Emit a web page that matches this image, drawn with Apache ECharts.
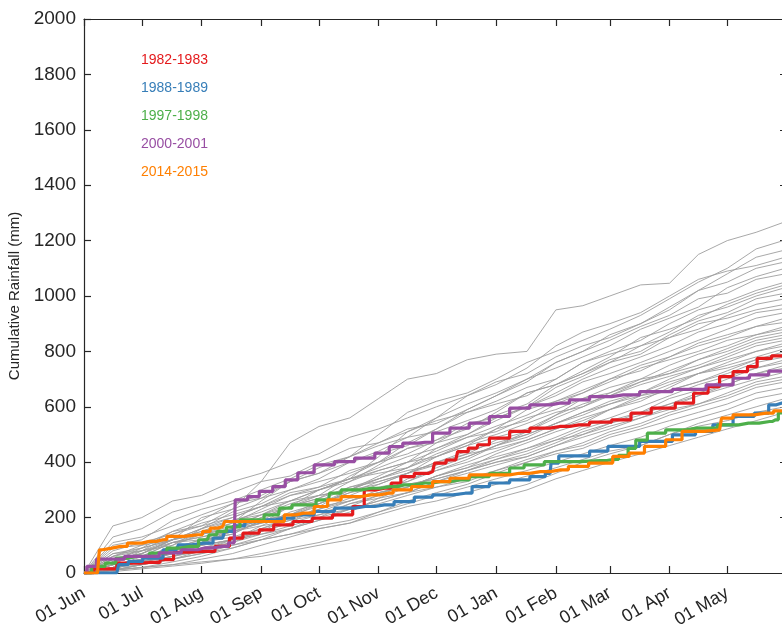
<!DOCTYPE html>
<html>
<head>
<meta charset="utf-8">
<script src="https://cdn.jsdelivr.net/npm/echarts@6/dist/echarts.min.js"></script>
<style>
html,body{margin:0;padding:0;background:#fff;}
#chart{width:782px;height:630px;}
</style>
</head>
<body>
<div id="chart"></div>
<script>
// ---- tick labels ----
const monthStartDays = [0, 30, 61, 92, 122, 153, 183, 214, 245, 273, 304, 334];
const monthLabels = ['01 Jun','01 Jul','01 Aug','01 Sep','01 Oct','01 Nov','01 Dec','01 Jan','01 Feb','01 Mar','01 Apr','01 May'];
const yTicks = [0,200,400,600,800,1000,1200,1400,1600,1800,2000];

// ---- highlighted seasons (day since 01 Jun, cumulative mm) ----
const seasonNames = ['1982-1983','1988-1989','1997-1998','2000-2001','2014-2015'];
const seasonColors = ['#E41A1C','#377EB8','#4DAF4A','#984EA3','#FF7F00'];

const days1982 = [0,10,24,34,45,48,62,74,77,88,94,103,114,123,135,144,147,156,163,166,177,181,183,193,195,204,205,216,226,237,247,257,268,280,288,301,313,320,328,332,342,347,352,362,365];
const vals1982 = [0,15,36,38,48,75,78,96,126,144,156,174,186,198,210,240,300,306,325,348,360,366,397,408,438,451,463,487,511,523,529,535,545,553,577,595,613,649,673,709,727,745,775,784,784];

const days1988 = [0,17,19,27,34,48,50,62,72,74,81,86,95,104,114,125,135,146,156,166,177,185,198,205,216,226,237,242,243,250,261,264,280,297,314,321,332,342,354,357,362,365];
const vals1988 = [0,0,30,42,54,84,102,108,126,150,170,185,192,198,210,222,234,240,246,258,274,282,288,312,325,336,348,360,397,423,423,440,457,475,499,511,535,565,577,607,613,613];

const days1997 = [0,8,14,19,27,41,45,55,64,66,72,76,86,101,102,114,127,128,139,149,159,166,177,185,195,205,216,226,231,247,268,275,280,285,288,297,307,318,323,335,345,356,359,362,365];
const vals1997 = [0,24,36,54,60,72,90,96,120,138,150,166,192,210,234,246,264,288,300,306,312,318,325,330,336,348,360,379,390,402,406,410,425,450,480,505,517,523,523,535,541,547,553,578,578];

const days2000 = [0,3,10,32,46,55,63,72,78,79,83,87,95,101,108,114,125,135,146,156,161,170,177,185,195,205,216,226,237,247,257,268,280,297,314,332,342,349,362,365];
const vals2000 = [0,24,50,60,73,84,91,96,109,264,264,276,295,312,336,362,390,402,415,433,456,469,472,505,523,541,565,595,607,613,625,637,643,655,663,679,703,715,729,730];

const days2014 = [0,7,9,10,19,26,34,41,45,59,64,67,72,74,88,102,106,114,125,128,139,149,158,163,177,185,195,205,216,226,237,247,256,268,281,285,297,307,314,330,332,342,354,362,365];
const vals2014 = [0,0,84,90,96,108,114,120,132,138,150,162,168,186,186,186,210,216,240,264,276,282,288,300,312,330,342,354,354,360,366,372,385,397,421,433,457,481,511,517,559,571,577,585,585];

// ---- all other seasons (half-monthly cumulative mm, read approximately) ----
const grayDays = [0,15,30,46,61,77,92,107,122,138,153,168,183,199,214,230,245,259,273,289,304,319,334,349,364];
const grayRuns = [
  [0,40,90,120,200,230,330,470,529,560,630,700,720,770,790,800,950,965,1000,1040,1046,1150,1200,1230,1268],
  [0,20,50,100,140,180,260,330,380,420,500,580,620,650,700,760,800,840,880,930,990,1050,1100,1170,1202],
  [0,170,200,260,280,330,360,400,430,490,520,560,600,640,690,720,780,820,850,900,960,1020,1080,1140,1166],
  [0,30,40,60,100,160,200,240,300,340,420,510,560,640,680,740,820,870,900,940,1000,1060,1090,1110,1140],
  [0,30,80,140,170,230,270,330,360,420,460,490,560,610,650,700,760,800,860,900,950,1020,1050,1100,1123],
  [0,100,120,190,230,260,300,340,390,420,470,520,540,590,640,700,740,780,820,880,920,960,1030,1070,1100],
  [0,20,60,90,120,140,190,240,280,350,400,470,520,590,640,690,760,800,840,890,930,990,1010,1060,1080],
  [0,60,90,120,160,220,250,300,340,400,430,460,520,580,610,640,700,760,800,840,900,950,980,1020,1050],
  [0,50,70,120,140,160,210,260,300,330,390,450,480,520,580,650,680,730,780,850,880,920,970,1010,1040],
  [0,130,160,220,250,290,330,350,400,450,470,510,550,580,620,670,700,760,790,820,870,930,960,1000,1030],
  [0,10,50,70,110,150,180,240,270,330,370,400,470,530,570,610,680,720,770,800,860,910,940,990,1010],
  [0,60,100,150,190,250,280,330,360,400,440,490,510,550,590,650,680,720,760,820,850,880,930,970,990],
  [0,20,30,60,80,120,150,180,240,300,340,380,450,500,560,600,670,710,760,790,850,900,920,950,970],
  [0,40,70,120,150,180,230,280,310,370,400,430,480,540,560,600,650,700,740,780,820,870,900,940,955],
  [0,110,130,170,210,250,270,300,330,360,400,450,470,500,550,600,640,690,720,760,800,840,880,920,940],
  [0,40,60,110,120,140,190,210,260,310,340,380,430,470,520,550,610,650,700,730,780,830,860,890,920],
  [0,20,40,80,100,120,170,220,250,290,330,360,420,460,520,590,620,660,700,750,780,820,850,890,905],
  [0,50,80,100,160,200,240,290,310,340,380,420,450,490,530,570,620,650,690,740,770,800,840,860,890],
  [0,80,110,140,180,210,240,260,300,340,370,400,440,490,510,560,590,630,670,700,750,790,820,860,880],
  [0,30,50,90,110,160,180,200,250,300,320,360,400,430,480,510,570,630,650,690,730,770,810,850,870],
  [0,40,70,120,140,170,210,250,280,300,350,400,420,470,500,540,580,600,650,700,720,770,800,840,860],
  [0,10,30,50,70,100,130,160,200,250,280,340,370,410,460,510,560,600,640,690,720,750,790,830,850],
  [0,70,90,150,170,200,240,280,300,340,360,380,420,460,490,520,570,610,640,680,710,740,780,820,840],
  [0,50,60,110,130,160,200,240,260,280,320,360,390,420,460,500,540,580,620,650,700,740,770,800,830],
  [0,20,40,70,90,110,150,200,220,260,300,330,380,420,460,490,540,570,610,650,690,720,760,800,820],
  [0,60,80,120,150,190,210,240,270,310,330,360,400,440,470,500,540,580,610,640,680,720,750,780,810],
  [0,30,50,90,120,160,190,210,250,290,310,330,370,400,440,480,520,560,590,620,670,720,740,770,800],
  [0,10,20,40,60,90,120,160,190,220,270,310,350,380,430,470,510,540,590,630,660,690,730,770,790],
  [0,90,100,120,160,190,220,260,280,300,340,370,390,430,450,480,520,550,590,640,660,690,720,760,780],
  [0,40,60,90,110,150,170,190,230,270,290,310,350,390,420,450,490,530,560,600,640,680,710,740,770],
  [0,30,40,70,100,120,160,200,220,240,280,320,340,370,410,440,480,520,550,580,630,660,700,740,760],
  [0,50,70,110,130,150,180,200,230,260,290,310,350,380,410,450,480,500,540,580,610,640,680,720,750],
  [0,10,30,50,80,110,140,170,200,230,260,290,330,370,400,430,470,510,540,570,610,650,680,720,740],
  [0,30,50,70,100,120,150,180,210,250,270,290,330,360,390,420,460,500,530,560,600,640,670,700,725],
  [0,70,80,110,140,160,190,210,240,260,290,320,340,370,400,420,460,490,520,560,590,610,650,690,710],
  [0,10,20,30,50,70,100,130,160,180,220,260,290,320,360,400,440,470,510,540,580,610,640,680,700],
  [0,20,40,60,90,120,140,160,190,230,250,280,310,330,370,410,440,460,500,530,570,600,630,670,690],
  [0,40,60,80,110,130,160,190,210,230,260,290,310,340,370,400,430,450,490,520,550,580,610,650,670],
  [0,10,30,50,70,90,120,140,170,190,220,250,280,310,340,370,400,430,460,490,530,560,590,630,650],
  [0,10,20,30,40,50,70,90,110,140,160,190,220,250,290,320,360,400,430,460,500,540,570,600,630],
  [0,20,40,60,80,100,120,140,160,180,210,240,260,290,320,350,380,410,440,460,500,530,550,580,600],
  [0,5,15,25,35,50,60,80,100,120,150,180,210,240,270,300,340,370,400,430,460,490,520,550,580]
];

const seasonDays = [days1982, days1988, days1997, days2000, days2014];
const seasonVals = [vals1982, vals1988, vals1997, vals2000, vals2014];

function pairs(xs, ys) { return xs.map((x, i) => [x, ys[i]]); }

const series = [];
grayRuns.forEach((run, k) => {
  series.push({
    type: 'line', name: 'other' + k, data: pairs(grayDays, run),
    showSymbol: false, silent: true, z: 1,
    lineStyle: { color: '#9e9e9e', width: 0.9 }
  });
});
seasonNames.forEach((nm, k) => {
  series.push({
    type: 'line', name: nm, data: pairs(seasonDays[k], seasonVals[k]),
    step: 'middle', showSymbol: false, z: 5 + k,
    lineStyle: { color: seasonColors[k], width: 3.2 },
    itemStyle: { color: seasonColors[k] }
  });
});

const axisColor = '#262626';
const font = 'Liberation Sans, Arial, Helvetica, sans-serif';
const lineSt = { color: axisColor, width: 1.2 };

const chart = echarts.init(document.getElementById('chart'), null, { renderer: 'canvas' });
chart.setOption({
  animation: false,
  backgroundColor: '#fff',
  grid: { left: 84, right: -5, top: 19, bottom: 57, containLabel: false, outerBoundsMode: 'none' },
  legend: {
    data: seasonNames.map((n, k) => ({ name: n, textStyle: { color: seasonColors[k] } })),
    orient: 'vertical', left: 130, top: 48,
    itemWidth: 0, itemHeight: 0, itemGap: 14,
    selectedMode: false,
    textStyle: { fontFamily: font, fontSize: 14, lineHeight: 14 }
  },
  xAxis: [{
    type: 'value', min: 0, max: 365, position: 'bottom',
    axisLine: { onZero: false, lineStyle: lineSt },
    axisTick: { inside: true, length: 7, customValues: monthStartDays, lineStyle: lineSt },
    axisLabel: {
      customValues: monthStartDays, rotate: 30, margin: 19,
      color: axisColor, fontSize: 18, fontFamily: font,
      formatter: v => { const i = monthStartDays.indexOf(v); return i >= 0 ? monthLabels[i] : ''; }
    },
    splitLine: { show: false }
  }, {
    type: 'value', min: 0, max: 365, position: 'top',
    axisLine: { onZero: false, lineStyle: lineSt },
    axisTick: { inside: true, length: 7, customValues: monthStartDays, lineStyle: lineSt },
    axisLabel: { show: false },
    splitLine: { show: false }
  }],
  yAxis: [{
    type: 'value', min: 0, max: 2000, interval: 200, position: 'left',
    name: 'Cumulative Rainfall (mm)', nameLocation: 'middle', nameGap: 58,
    nameTextStyle: { color: axisColor, fontSize: 15, fontFamily: font },
    axisLine: { show: true, onZero: false, lineStyle: lineSt },
    axisTick: { show: true, inside: true, length: 7, lineStyle: lineSt },
    axisLabel: { color: axisColor, fontSize: 19, fontFamily: font, margin: 8,
      formatter: v => (yTicks.indexOf(v) >= 0 ? String(v) : '') },
    splitLine: { show: false }
  }, {
    type: 'value', min: 0, max: 2000, interval: 200, position: 'right',
    axisLine: { show: true, onZero: false, lineStyle: lineSt },
    axisTick: { show: true, inside: true, length: 7, lineStyle: lineSt },
    axisLabel: { show: false },
    splitLine: { show: false }
  }],
  series: series
});
</script>
</body>
</html>
